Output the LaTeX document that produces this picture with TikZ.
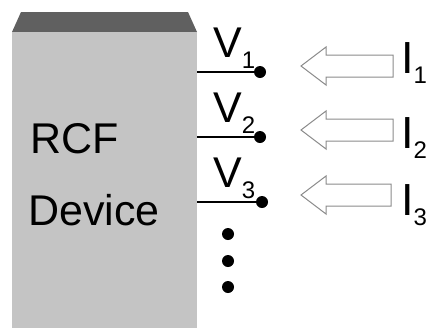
\documentclass[tikz,border=0pt]{standalone}
\usepackage{fontspec}
\setmainfont{Liberation Sans}
\usetikzlibrary{calc}
\definecolor{body}{HTML}{C4C4C4}
\definecolor{lid}{HTML}{606060}
\definecolor{hollow}{HTML}{8A8A8A}

\begin{document}
\begin{tikzpicture}[
  x=1pt, y=-1pt,
  big/.style={font=\fontsize{43}{43}\selectfont, inner sep=0pt, anchor=base west},
  pin/.style={circle, fill=black, minimum size=12pt, inner sep=0pt},
  wire/.style={black, line width=1.3pt},
  flow/.style={hollow, line width=1pt, line join=miter},
]
\useasboundingbox (0,0) rectangle (430,327);

% ---- device block with darker lid ----
\fill[lid] (21,12) -- (188,12) -- (197,32) -- (12,32) -- cycle;
\fill[body] (12,32) rectangle (197,330);
\node[big] (rcf) at (30,153) {RCF};
\node[big] (dev) at (28,225) {Device};

% ---- terminals: wire, pin and voltage label ----
\foreach \i/\y/\px in {1/72/260, 2/137/260, 3/202/262} {
  \coordinate (w\i) at (197,\y);
  \node[pin] (p\i) at (\px,\y) {};
  \draw[wire] (w\i) -- (p\i.center);
  \node[big] (v\i) at (213,\y-15)
    {V\raisebox{-11pt}{\fontsize{24}{24}\selectfont\i}};
}

% ---- more terminals ----
\foreach \y [count=\k] in {234, 261, 287} {
  \node[pin] (e\k) at (228,\y) {};
}

% ---- injected currents: hollow arrows pointing into the pins ----
\foreach \i/\c/\b/\e in {1/66/73/393, 2/130/148/393, 3/195/215/391} {
  \draw[flow] (301,\c) -- (326,\c-19) -- (326,\c-11) -- (\e,\c-11)
    -- (\e,\c+11) -- (326,\c+11) -- (326,\c+19) -- cycle;
  \node[big, font=\fontsize{45}{45}\selectfont] (c\i) at (401,\b)
    {I\raisebox{-10pt}{\fontsize{24}{24}\selectfont\i}};
}

\end{tikzpicture}
\end{document}
